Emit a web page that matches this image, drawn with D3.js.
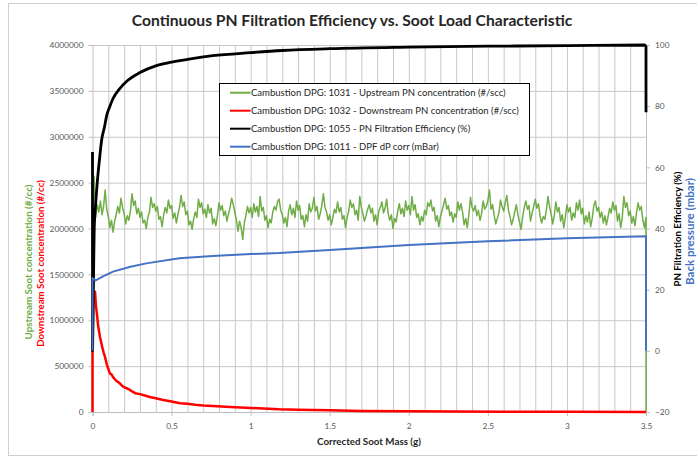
<!DOCTYPE html>
<html><head><meta charset="utf-8">
<script src="https://cdn.jsdelivr.net/npm/d3@7"></script>
<style>body{margin:0;background:#fff}svg{display:block;font-family:Lato,"Open Sans",sans-serif}</style>
</head><body><svg id="c" width="697" height="457"></svg>
<script>
// ---------------- DATA ----------------
const chartTitle = "Continuous PN Filtration Efficiency vs. Soot Load Characteristic";
const xTitle = "Corrected Soot Mass (g)";
const leftTitleUp = "Upstream Soot concentration (#/cc)";
const leftTitleDown = "Downstream Soot concentration (#/cc)";
const rightTitleEff = "PN Filtration Efficiency (%)";
const rightTitleDp = "Back pressure (mbar)";
const legendLabels = [
  "Cambustion DPG: 1031 - Upstream PN concentration (#/scc)",
  "Cambustion DPG: 1032 - Downstream PN concentration (#/scc)",
  "Cambustion DPG: 1055 - PN Filtration Efficiency (%)",
  "Cambustion DPG: 1011 - DPF dP corr (mBar)"
];
const seriesColors = ["#70ad47", "#ff0000", "#000000", "#4472c4"];
const xTickValues = [0, 0.5, 1, 1.5, 2, 2.5, 3, 3.5];
const leftTickValues = [0, 500000, 1000000, 1500000, 2000000, 2500000, 3000000, 3500000, 4000000];
const rightTickValues = [-20, 0, 20, 40, 60, 80, 100];

// Upstream (green) concentration in thousands of #/cc, sampled every 0.01 g from 0 to 3.5 g
const upstreamStep = 0.01;
const upstreamK = [
 2200,2570,2120,2260,2180,2300,2150,2240,2420,2210,2130,2010,2090,1960,2080,2150,2240,2170,2330,2230,2160,2050,2140,2090,2190,
 2380,2250,2300,2160,2220,2120,2180,2060,2090,2000,2120,2180,2340,2230,2270,2190,2240,2100,2130,2020,2150,2230,2170,2310,2220,
 2250,2110,2170,2060,2150,2230,2360,2240,2290,2150,2190,2040,2080,1990,2110,2180,2120,2320,2230,2280,2160,2210,2120,2260,2170,
 2220,2050,2110,2030,2140,2280,2200,2250,2140,2190,2080,2160,2230,2330,2260,2180,2090,1970,2080,2010,1880,2060,2140,2240,2170,
 2230,2120,2270,2180,2240,2130,2350,2190,2230,2090,2140,2010,2100,2060,2180,2240,2200,2290,2320,2200,2150,2060,2120,2020,2190,
 2260,2150,2220,2120,2300,2200,2250,2100,2140,2020,2150,2080,2270,2180,2220,2340,2190,2240,2100,2160,2250,2380,2230,2180,2090,
 2150,2040,2120,2210,2170,2290,2180,2230,2100,2140,2010,2120,2190,2310,2230,2270,2150,2200,2090,2350,2230,2160,2080,2140,2210,
 2260,2170,2220,2080,2150,2040,2190,2230,2290,2170,2220,2320,2160,2090,2150,2000,2110,2070,2190,2270,2160,2220,2130,2300,2200,
 2250,2150,2350,2200,2260,2120,2160,2040,2130,2080,2200,2150,2280,2240,2310,2190,2230,2080,2140,2020,2130,2190,2260,2330,2210,
 2250,2140,2180,2070,2160,2120,2290,2200,2270,2180,2040,2110,2010,2150,2340,2230,2190,2250,2140,2200,2090,2160,2300,2210,2240,
 2300,2420,2210,2260,2140,2050,2110,2170,2310,2240,2190,2280,2360,2200,2130,2040,2100,2180,2260,2150,2070,1990,2130,2230,2300,
 2210,2250,2080,2170,2240,2320,2220,2270,2140,2060,2130,2100,2200,2350,2240,2160,2050,2140,2290,2180,2230,2080,2150,2010,2120,
 2260,2180,2230,2090,2170,2120,2280,2200,2310,2160,2220,2050,2140,2070,2180,2020,2110,2250,2300,2190,2230,2120,2180,2060,2140,
 2040,2130,2220,2170,2290,2200,2250,2080,2160,2010,2120,2350,2230,2280,2140,2190,2060,2130,2030,2170,2280,2200,2240,2090,2010,
 2120
];
const upstreamEndDrop = 0;

// Downstream (red) concentration, #/cc
const downMass = [0,0,0.004,0.01,0.016,0.022,0.026,0.035,0.047,0.055,0.06,0.07,0.079,0.085,0.09,0.1,0.11,0.12,0.13,0.14,0.15,0.16,0.174,0.185,0.2,0.215,0.237,0.25,0.27,0.3,0.32,0.342,0.37,0.4,0.447,0.5,0.553,0.6,0.65,0.7,0.76,0.87,0.97,1.08,1.18,1.3,1.5,1.7,2.0,2.3,2.6,3.0,3.5];
const downConc = [0,650000,1300000,1250000,1310000,1150000,1100000,950000,820000,760000,720000,650000,600000,560000,520000,470000,420000,410000,380000,360000,340000,330000,310000,290000,270000,260000,240000,225000,205000,195000,185000,175000,160000,150000,131000,115000,95000,90000,80000,72000,65000,55000,47000,38000,29000,24000,18000,12000,8000,5000,3000,2000,1000];

// Filtration efficiency (black), %
const effMass = [0,0,0.002,0.008,0.011,0.02,0.03,0.045,0.058,0.075,0.09,0.11,0.13,0.17,0.22,0.3,0.4,0.5,0.62,0.76,1.0,1.2,1.5,2.0,2.5,3.0,3.49,3.5,3.5];
const effPct  = [65,0,5,30,40,48,55,63,69,73,77,80,82.5,85.6,88.3,91,93.2,94.4,95.5,96.5,97.5,98.2,98.8,99.3,99.6,99.8,100,99.5,78];

// DPF dP (blue), mbar
const dpMass = [0,0,0.02,0.07,0.13,0.24,0.34,0.55,0.76,0.97,1.18,1.5,2.0,2.5,3.0,3.5,3.5];
const dpMbar = [0,23.8,23.0,24.4,25.9,27.5,28.6,30.3,31.0,31.6,32.0,33.0,34.6,35.8,36.8,37.5,0];

// ---------------- LAYOUT ----------------
const svg = d3.select("#c");
const L = 92.5, R = 646, T = 45, B = 412;
const x = d3.scaleLinear().domain([0, 3.5]).range([L, R]);
const yL = d3.scaleLinear().domain([0, 4000000]).range([B, T]);
const yR = d3.scaleLinear().domain([-20, 100]).range([B, T]);
const gridColor = "#c8c8c8", axisColor = "#bfbfbf", labelColor = "#595959";

function fit(sel, target) {
  const fs = parseFloat(sel.attr("font-size"));
  const w = sel.node().getComputedTextLength();
  sel.attr("font-size", fs * target / w);
  return fs * target / w;
}

// outer border
svg.append("rect").attr("x", 8.5).attr("y", 3.5).attr("width", 700).attr("height", 452)
  .attr("fill", "#fff").attr("stroke", "#d0d0d0");

// vertical gridlines every 0.1
const minorX = d3.range(1, 35).map(i => i / 10);
svg.append("g").attr("transform", `translate(0,${B})`)
  .call(d3.axisBottom(x).tickValues(minorX).tickSize(-(B - T)).tickFormat(""))
  .call(g => g.select(".domain").remove())
  .call(g => g.selectAll("line").attr("stroke", gridColor));
// horizontal gridlines
svg.append("g").attr("transform", `translate(${L},0)`)
  .call(d3.axisLeft(yL).tickValues(leftTickValues.slice(1)).tickSize(-(R - L)).tickFormat(""))
  .call(g => g.select(".domain").remove())
  .call(g => g.selectAll("line").attr("stroke", gridColor));

// axes
const gx = svg.append("g").attr("transform", `translate(0,${B})`)
  .call(d3.axisBottom(x).tickValues(xTickValues).tickSize(4).tickPadding(5).tickFormat(d3.format("")));
const gl = svg.append("g").attr("transform", `translate(${L},0)`)
  .call(d3.axisLeft(yL).tickValues(leftTickValues).tickSize(4).tickPadding(5).tickFormat(d3.format("d")));
const gr = svg.append("g").attr("transform", `translate(${R},0)`)
  .call(d3.axisRight(yR).tickValues(rightTickValues).tickSize(4).tickPadding(5).tickFormat(d3.format("d")));
[gx, gl, gr].forEach(g => {
  g.attr("font-family", null);
  g.select(".domain").attr("stroke", axisColor);
  g.selectAll(".tick line").attr("stroke", axisColor);
  g.selectAll("text").attr("fill", labelColor).attr("font-size", 10);
});
const tickFs = fit(gl.selectAll("text").filter(d => d === 4000000), 34);
[gx, gl, gr].forEach(g => g.selectAll("text").attr("font-size", tickFs));
gx.selectAll("text").attr("dy", "0.9em");

// ---------------- SERIES ----------------
const upData = upstreamK.map((v, i) => [i * upstreamStep, v * 1000]);
upData.push([3.5, upstreamEndDrop]);
const lineL = d3.line().x(d => x(d[0])).y(d => yL(d[1]));
const lineR = d3.line().x(d => x(d[0])).y(d => yR(d[1]));
const plot = svg.append("g");
plot.append("path").datum(upData).attr("d", lineL).attr("fill", "none")
  .attr("stroke", seriesColors[0]).attr("stroke-width", 1.5).attr("stroke-linejoin", "round");
plot.append("path").datum(downMass.map((m, i) => [m, downConc[i]])).attr("d", lineL).attr("fill", "none")
  .attr("stroke", seriesColors[1]).attr("stroke-width", 2.5).attr("stroke-linejoin", "round");
plot.append("path").datum(effMass.map((m, i) => [m, effPct[i]])).attr("d", lineR.curve(d3.curveMonotoneX)).attr("fill", "none")
  .attr("stroke", seriesColors[2]).attr("stroke-width", 2.8).attr("stroke-linejoin", "round");
plot.append("path").datum(dpMass.map((m, i) => [m, dpMbar[i]])).attr("d", d3.line().x(d => x(d[0])).y(d => yR(d[1]))).attr("fill", "none")
  .attr("stroke", seriesColors[3]).attr("stroke-width", 2).attr("stroke-linejoin", "round");

// ---------------- TEXT ----------------
const t = svg.append("text").attr("x", 352).attr("y", 26).attr("text-anchor", "middle")
  .attr("font-size", 17).attr("font-weight", "bold").attr("fill", "#262626").text(chartTitle);
fit(t, 441);

const xt = svg.append("text").attr("x", 369).attr("y", 445).attr("text-anchor", "middle")
  .attr("font-size", 10).attr("font-weight", "bold").attr("fill", "#262626").text(xTitle);
fit(xt, 104);

function vtitle(cx, cy, txt, color, w) {
  const s = svg.append("text").attr("transform", `translate(${cx},${cy}) rotate(-90)`)
    .attr("text-anchor", "middle").attr("dominant-baseline", "central")
    .attr("font-size", 10).attr("font-weight", "bold").attr("fill", color).text(txt);
  fit(s, w);
}
vtitle(28, 262, leftTitleUp, seriesColors[0], 155);
vtitle(40, 263.5, leftTitleDown, seriesColors[1], 167);
vtitle(677, 229, rightTitleEff, "#000", 115);
vtitle(689.5, 231.5, rightTitleDp, seriesColors[3], 107);

// ---------------- LEGEND ----------------
const lg = svg.append("g");
lg.append("rect").attr("x", 219.5).attr("y", 83.5).attr("width", 310).attr("height", 72)
  .attr("fill", "#fff").attr("stroke", "#000");
const rowY = d3.scalePoint().domain(d3.range(legendLabels.length)).range([92.7, 146.7]);
let legFs = null;
legendLabels.forEach((lab, i) => {
  lg.append("line").attr("x1", 230).attr("x2", 250.5).attr("y1", rowY(i)).attr("y2", rowY(i))
    .attr("stroke", seriesColors[i]).attr("stroke-width", 2);
  const tx = lg.append("text").attr("x", 251).attr("y", rowY(i)).attr("dominant-baseline", "central")
    .attr("font-size", 10).attr("fill", "#262626").text(lab);
  if (i === 0) legFs = fit(tx, 255); else tx.attr("font-size", legFs);
});
</script></body></html>
